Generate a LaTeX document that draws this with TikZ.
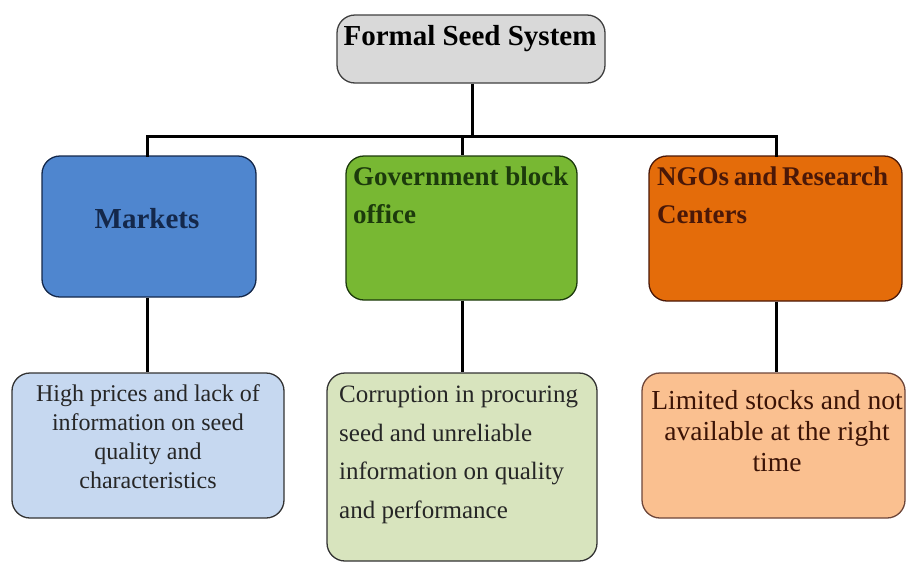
\documentclass[tikz,border=0pt]{standalone}
\usepackage{fontspec}
\setmainfont{Liberation Serif}
\begin{document}
\begin{tikzpicture}[x=1pt,y=-1pt,
  box/.style={draw, line width=1.3pt, rounded corners=18pt, inner sep=0pt},
  link/.style={draw=black, line width=3pt},
  head/.style={inner sep=0pt, font=\bfseries\fontsize{27}{38}\selectfont},
  bighead/.style={inner sep=0pt, font=\bfseries\fontsize{29}{38}\selectfont},
  note/.style={inner sep=0pt}
]
\definecolor{topfill}{HTML}{D9D9D9}
\definecolor{mktfill}{HTML}{4F86CF}
\definecolor{mktdark}{HTML}{14284B}
\definecolor{govfill}{HTML}{78B833}
\definecolor{govdark}{HTML}{1C3A0C}
\definecolor{ngofill}{HTML}{E46C0A}
\definecolor{ngodark}{HTML}{4A1808}
\definecolor{mktlight}{HTML}{C6D8F0}
\definecolor{govlight}{HTML}{D8E4BE}
\definecolor{ngolight}{HTML}{FAC090}

\useasboundingbox (0,0) rectangle (908,563);
\fill[white] (0,0) rectangle (908,563);

% top level
\node[box, fill=topfill, draw=black!75, minimum width=268pt, minimum height=68pt] (top) at (471,49) {};
\node[bighead, anchor=base, text=black] (toptxt) at (470,45) {Formal Seed System};

% second level
\node[box, fill=mktfill, draw=mktdark, minimum width=214pt, minimum height=141pt] (mkt) at (149,226.5) {};
\node[bighead, anchor=base, text=mktdark] (mkttxt) at (147,228) {Markets};

\node[box, fill=govfill, draw=govdark, minimum width=231pt, minimum height=144pt] (gov) at (461.5,228) {};
\node[head, anchor=base west, text=govdark] (govtxt1) at (353,185) {Government block};
\node[head, anchor=base west, text=govdark] (govtxt2) at (353,223) {office};

\node[box, fill=ngofill, draw=ngodark, minimum width=253pt, minimum height=145pt] (ngo) at (775.5,228.5) {};
\node[head, anchor=base west, text=ngodark] (ngotxt1) at (657,185) {\hbox to 231pt{NGOs\hfill and\hfill Research}};
\node[head, anchor=base west, text=ngodark] (ngotxt2) at (657,223) {Centers};

% third level
\node[box, fill=mktlight, draw=black!80, minimum width=272pt, minimum height=145pt] (mktnote) at (148,445.5) {};
\node[note, anchor=north, align=center, font=\fontsize{24}{29}\selectfont, text=black!85] (mktnotetxt) at (148,384)
  {High prices and lack of\\information on seed\\quality and\\characteristics};

\node[box, fill=govlight, draw=black!80, minimum width=270pt, minimum height=188pt] (govnote) at (462,467) {};
\node[note, anchor=north west, align=left, font=\fontsize{25}{38.5}\selectfont, text=black!85] (govnotetxt) at (339,386)
  {Corruption in procuring\\seed and unreliable\\information on quality\\and performance};

\node[box, fill=ngolight, draw=ngodark!80, minimum width=263pt, minimum height=145pt] (ngonote) at (773.5,445.5) {};
\node[note, anchor=north, align=center, font=\fontsize{27.5}{31}\selectfont, text=ngodark!80!black] (ngonotetxt) at (777,390)
  {Limited stocks and not\\available at the right\\time};

% connectors: trunk, bus and drops
\coordinate (bus) at (472,136);
\coordinate (busL) at (147,136);
\coordinate (busM) at (462,136);
\coordinate (busR) at (776,136);
\draw[link] (bus |- top.south) -- (bus);
\draw[link, line cap=rect] (busL |- mkt.north) -- (busL) -- (busR) -- (busR |- ngo.north);
\draw[link] (busM) -- (busM |- gov.north);
\draw[link] (busL |- mkt.south) -- (busL |- mktnote.north);
\draw[link] (busM |- gov.south) -- (busM |- govnote.north);
\draw[link] (busR |- ngo.south) -- (busR |- ngonote.north);
\end{tikzpicture}
\end{document}
